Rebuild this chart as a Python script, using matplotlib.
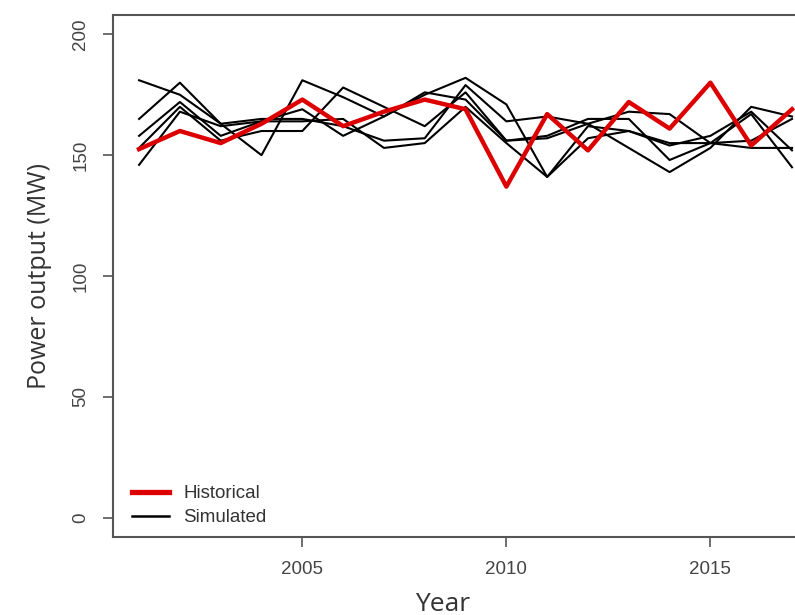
import matplotlib
matplotlib.use("Agg")
import matplotlib.pyplot as plt

# data
years = list(range(2001, 2018))
historical = [152.5, 160, 155, 163, 173, 162, 168, 173, 169, 137, 167, 152, 172, 161, 180, 154, 169]
sim1 = [181, 175, 163, 165, 165, 162, 156, 157, 179, 164, 166, 163, 168, 167, 155, 153, 153]
sim2 = [165, 180, 163, 150, 181, 174, 166, 175, 182, 171, 141, 162, 160, 155, 155, 167, 145]
sim3 = [158, 172, 158, 164, 169, 158, 166, 176, 173, 156, 157, 163, 153, 143, 153, 170, 166]
sim4 = [153, 170, 156, 160, 160, 178, 170, 162, 176, 156, 158, 165, 165, 148, 155, 156, 165]
sim5 = [146, 168, 162, 164, 164, 165, 153, 155, 170, 155, 141, 157, 160, 154, 158, 168, 152]
simulated = [sim1, sim2, sim3, sim4, sim5]

xticks = [2005, 2010, 2015]
yticks = [0, 50, 100, 150, 200]

plt.rcParams['font.family'] = ['Liberation Sans', 'DejaVu Sans']
fig = plt.figure(figsize=(7.95, 6.15), dpi=100)
ax = fig.add_axes([0.1421, 0.1268, 0.887, 0.8488])

for s in simulated:
    ax.plot(years, s, color='black', lw=1.5)
ax.plot(years, historical, color='#dd0000', lw=3.2)

ax.set_xlim(2000.36, 2017.64)
ax.set_ylim(-8, 208)
ax.set_xticks(xticks)
ax.set_yticks(yticks)
ax.tick_params(colors='#555555', labelcolor='#444444', labelsize=13.5, length=7, width=1.2, pad=10)
for lab in ax.get_yticklabels():
    lab.set_rotation(90)
    lab.set_va('center')
for sp in ax.spines.values():
    sp.set_color('#555555')
    sp.set_linewidth(1.5)

ax.set_xlabel("Year", family='Open Sans', fontsize=19, color='#333333')
ax.xaxis.set_label_coords(0.468, -0.105)
ax.set_ylabel("Power output (MW)", family='Open Sans', fontsize=18, color='#333333')
ax.yaxis.set_label_coords(-0.087, 0.5)

h1, = ax.plot([], [], color='#dd0000', lw=3.8, label='Historical')
h2, = ax.plot([], [], color='black', lw=1.8, label='Simulated')
ax.legend(handles=[h1, h2], loc='lower left', bbox_to_anchor=(0.007, -0.006), frameon=False,
          fontsize=13.5, handlelength=1.95, handletextpad=0.8, labelspacing=0.35, borderaxespad=0.35,
          labelcolor='#333333')

fig.savefig("out.png", dpi=100)
